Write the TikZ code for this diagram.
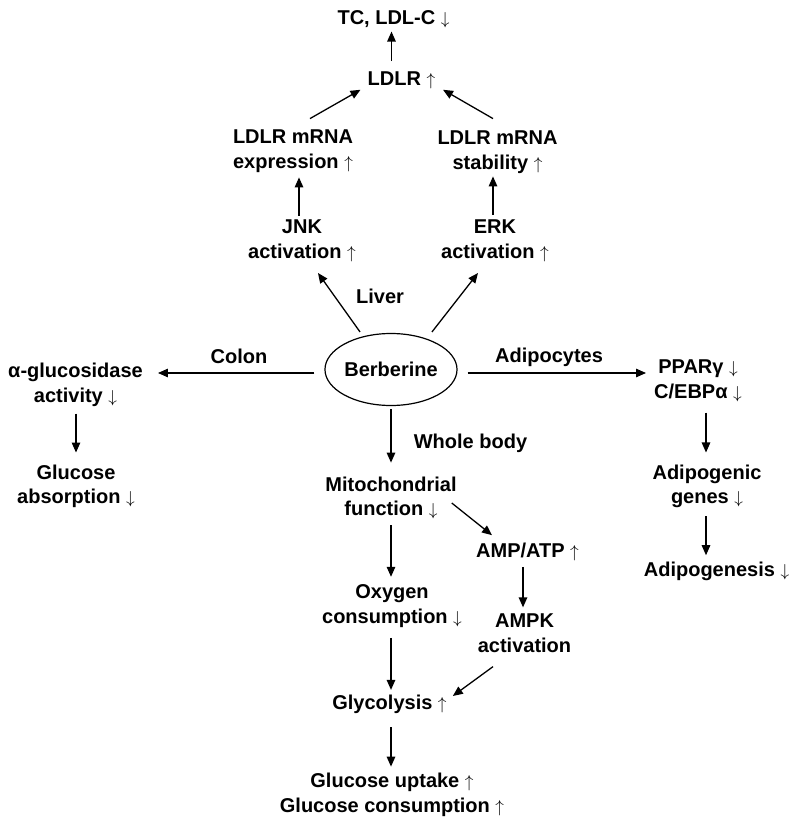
\documentclass[tikz,border=0pt]{standalone}
\usepackage{fontspec}
\setmainfont{Liberation Sans}
\usetikzlibrary{arrows.meta,shapes.geometric,calc}
\newcommand\UpA{{\fontsize{17}{17}\selectfont$\uparrow$}}
\newcommand\DnA{{\fontsize{17}{17}\selectfont$\downarrow$}}
\begin{document}
\begin{tikzpicture}[x=1pt,y=-1pt,
  lbl/.style={font=\fontsize{20}{24.5}\selectfont\bfseries, align=center, inner sep=2pt},
  arr/.style={line width=1.3pt, -{Triangle[length=10pt,width=8.5pt]}},
]
\useasboundingbox[fill=white] (0,0) rectangle (800,826);

% nodes
\node[lbl] (tc) at (393.5,19.7) {TC, LDL-C \DnA};
\node[lbl] (ldlr) at (401.5,80) {LDLR \UpA};
\node[lbl] (expr) at (293,151) {LDLR mRNA\\expression \UpA};
\node[lbl] (stab) at (497.5,152) {LDLR mRNA\\stability \UpA};
\node[lbl] (jnk) at (302,241) {JNK\\activation \UpA};
\node[lbl] (erk) at (495,241) {ERK\\activation \UpA};
\node[lbl] (liver) at (380,296) {Liver};
\node[lbl, ellipse, draw, line width=1.2pt, minimum width=122pt, minimum height=72pt, inner sep=0pt] (ber) at (391,369.5) {Berberine};
\node[lbl] (colon) at (239,356) {Colon};
\node[lbl] (adipo) at (549,357.8) {Adipocytes};
\node[lbl] (whole) at (470.5,443.8) {Whole body};
\node[lbl] (agluc) at (75.5,384.8) {α-glucosidase\\activity \DnA};
\node[lbl] (gabs) at (76,486.3) {Glucose\\absorption \DnA};
\node[lbl] (ppar) at (698,380.7) {PPARγ \DnA\\C/EBPα \DnA};
\node[lbl] (adgenes) at (707,486.3) {Adipogenic\\genes \DnA};
\node[lbl] (adgen) at (716.5,571.8) {Adipogenesis \DnA};
\node[lbl] (mito) at (391,498) {Mitochondrial\\function \DnA};
\node[lbl] (amp) at (527.5,551.7) {AMP/ATP \UpA};
\node[lbl] (ampk) at (524.5,633.2) {AMPK\\activation};
\node[lbl] (oxy) at (392,606.3) {Oxygen\\consumption \DnA};
\node[lbl] (glyc) at (389.5,704.8) {Glycolysis \UpA};
\node[lbl] (gluc) at (392,794.8) {Glucose uptake \UpA\\Glucose consumption \UpA};

% connectors
\draw[arr] ($(ldlr.north)+(-10,-8)$) -- ($(tc.south)+(-2,1)$);
\draw[arr] ($(expr.north)+(17,-9)$) -- ($(ldlr.south)+(-41,-1)$);
\draw[arr] ($(stab.north)+(-4.5,-10)$) -- ($(ldlr.south)+(41.5,-1)$);
\draw[arr] ($(jnk.north)+(-3,-2)$) -- ($(expr.south)+(6,3)$);
\draw[arr] ($(erk.north)+(-2,-3)$) -- ($(stab.south)+(-4.5,1)$);
\draw[arr] ($(ber.north)+(-31,-1)$) -- ($(jnk.south)+(16,9)$);
\draw[arr] ($(ber.north)+(41,-1)$) -- ($(erk.south)+(-17,9)$);
\draw[arr] ($(ber.west)+(-10,3.5)$) -- ($(ber.west -| agluc.east)+(13,3.5)$);
\draw[arr] ($(ber.east)+(10,3.5)$) -- ($(ber.east -| ppar.west)+(-6,3.5)$);
\draw[arr] ($(ber.south)+(0,3)$) -- ($(mito.north)+(0,-12)$);
\draw[arr] ($(agluc.south)+(0.5,5)$) -- ($(gabs.north)+(0,-10)$);
\draw[arr] ($(ppar.south)+(8,9)$) -- ($(adgenes.north)+(-1,-10)$);
\draw[arr] ($(adgenes.south)+(-1,6)$) -- ($(adgen.north)+(-10.5,-5)$);
\draw[arr] ($(mito.south)+(0,4)$) -- ($(oxy.north)+(-1,-6)$);
\draw[arr] ($(mito.east)+(-7,5)$) -- ($(amp.north)+(-35.5,-5.4)$);
\draw[arr] ($(amp.south)+(-4.5,4)$) -- ($(ampk.north)+(-1.5,-4.4)$);
\draw[arr] ($(ampk.south)+(-31.5,12)$) -- ($(glyc.east)+(4,-8.8)$);
\draw[arr] ($(oxy.south)+(-1,8)$) -- ($(glyc.north)+(1.5,-3.4)$);
\draw[arr] ($(glyc.south)+(1.5,11)$) -- ($(gluc.north)+(-1,-4.4)$);
\end{tikzpicture}
\end{document}
